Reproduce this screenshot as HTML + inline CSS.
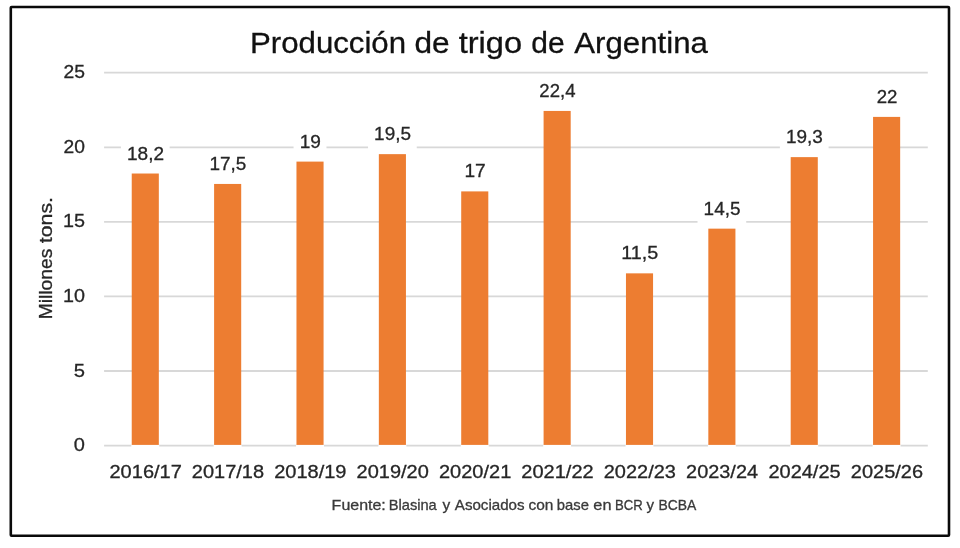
<!DOCTYPE html><html><head><meta charset="utf-8"><title>Producción de trigo de Argentina</title><style>html,body{margin:0;padding:0;background:#fff}svg{display:block;will-change:transform}</style></head><body><svg width="960" height="548" viewBox="0 0 960 548" font-family="Liberation Sans, sans-serif">
<rect x="0" y="0" width="960" height="548" fill="#fff"/>
<rect x="10.8" y="7.05" width="938.2" height="528.75" rx="0.8" fill="#fff" stroke="#0a0a0a" stroke-width="2.6"/>
<line x1="104.1" x2="927.8" y1="445.60" y2="445.60" stroke="#d8d8d8" stroke-width="1.8"/>
<line x1="104.1" x2="927.8" y1="371.02" y2="371.02" stroke="#d8d8d8" stroke-width="1.8"/>
<line x1="104.1" x2="927.8" y1="296.44" y2="296.44" stroke="#d8d8d8" stroke-width="1.8"/>
<line x1="104.1" x2="927.8" y1="221.86" y2="221.86" stroke="#d8d8d8" stroke-width="1.8"/>
<line x1="104.1" x2="927.8" y1="147.28" y2="147.28" stroke="#d8d8d8" stroke-width="1.8"/>
<line x1="104.1" x2="927.8" y1="72.70" y2="72.70" stroke="#d8d8d8" stroke-width="1.8"/>
<text transform="translate(73.75,451.10) scale(1.0489,1)" font-size="19.07" fill="#262626" stroke="#262626" stroke-width="0.3">0</text>
<text transform="translate(73.69,376.52) scale(1.0599,1)" font-size="19.07" fill="#262626" stroke="#262626" stroke-width="0.3">5</text>
<text transform="translate(62.92,301.94) scale(1.0357,1)" font-size="19.07" fill="#262626" stroke="#262626" stroke-width="0.3">10</text>
<text transform="translate(62.92,227.36) scale(1.0383,1)" font-size="19.07" fill="#262626" stroke="#262626" stroke-width="0.3">15</text>
<text transform="translate(63.44,152.78) scale(1.0104,1)" font-size="19.07" fill="#262626" stroke="#262626" stroke-width="0.3">20</text>
<text transform="translate(63.43,78.20) scale(1.0129,1)" font-size="19.07" fill="#262626" stroke="#262626" stroke-width="0.3">25</text>
<rect x="120.94" y="140.52" width="48.70" height="28.5" fill="#fff"/>
<rect x="203.30" y="150.95" width="48.70" height="28.5" fill="#fff"/>
<rect x="293.57" y="128.60" width="32.90" height="28.5" fill="#fff"/>
<rect x="368.04" y="121.15" width="48.70" height="28.5" fill="#fff"/>
<rect x="458.31" y="158.40" width="32.90" height="28.5" fill="#fff"/>
<rect x="532.78" y="77.94" width="48.70" height="28.5" fill="#fff"/>
<rect x="615.15" y="240.35" width="48.70" height="28.5" fill="#fff"/>
<rect x="697.52" y="195.65" width="48.70" height="28.5" fill="#fff"/>
<rect x="779.89" y="124.13" width="48.70" height="28.5" fill="#fff"/>
<rect x="870.16" y="83.90" width="32.90" height="28.5" fill="#fff"/>
<rect x="131.33" y="444.70" width="27.900000000000002" height="3" fill="#fff"/>
<rect x="131.73" y="173.52" width="27.1" height="271.38" fill="#ed7d31"/>
<text transform="translate(127.01,159.52) scale(1.0295,1)" font-size="18.49" fill="#262626" stroke="#262626" stroke-width="0.3">18,2</text>
<text transform="translate(109.48,478.30) scale(1.0829,1)" font-size="18.49" fill="#262626" stroke="#262626" stroke-width="0.3">2016/17</text>
<rect x="213.70" y="444.70" width="27.900000000000002" height="3" fill="#fff"/>
<rect x="214.10" y="183.95" width="27.1" height="260.95" fill="#ed7d31"/>
<text transform="translate(209.38,169.95) scale(1.0253,1)" font-size="18.49" fill="#262626" stroke="#262626" stroke-width="0.3">17,5</text>
<text transform="translate(191.86,478.30) scale(1.0806,1)" font-size="18.49" fill="#262626" stroke="#262626" stroke-width="0.3">2017/18</text>
<rect x="296.07" y="444.70" width="27.900000000000002" height="3" fill="#fff"/>
<rect x="296.47" y="161.60" width="27.1" height="283.30" fill="#ed7d31"/>
<text transform="translate(299.64,147.60) scale(1.0322,1)" font-size="18.49" fill="#262626" stroke="#262626" stroke-width="0.3">19</text>
<text transform="translate(274.22,478.30) scale(1.0822,1)" font-size="18.49" fill="#262626" stroke="#262626" stroke-width="0.3">2018/19</text>
<rect x="378.44" y="444.70" width="27.900000000000002" height="3" fill="#fff"/>
<rect x="378.84" y="154.15" width="27.1" height="290.75" fill="#ed7d31"/>
<text transform="translate(374.12,140.15) scale(1.0253,1)" font-size="18.49" fill="#262626" stroke="#262626" stroke-width="0.3">19,5</text>
<text transform="translate(356.60,478.30) scale(1.0799,1)" font-size="18.49" fill="#262626" stroke="#262626" stroke-width="0.3">2019/20</text>
<rect x="460.81" y="444.70" width="27.900000000000002" height="3" fill="#fff"/>
<rect x="461.21" y="191.40" width="27.1" height="253.50" fill="#ed7d31"/>
<text transform="translate(464.38,177.40) scale(1.0349,1)" font-size="18.49" fill="#262626" stroke="#262626" stroke-width="0.3">17</text>
<text transform="translate(438.96,478.30) scale(1.0829,1)" font-size="18.49" fill="#262626" stroke="#262626" stroke-width="0.3">2020/21</text>
<rect x="543.19" y="444.70" width="27.900000000000002" height="3" fill="#fff"/>
<rect x="543.59" y="110.94" width="27.1" height="333.96" fill="#ed7d31"/>
<text transform="translate(539.36,96.94) scale(1.0047,1)" font-size="18.49" fill="#262626" stroke="#262626" stroke-width="0.3">22,4</text>
<text transform="translate(521.33,478.30) scale(1.0829,1)" font-size="18.49" fill="#262626" stroke="#262626" stroke-width="0.3">2021/22</text>
<rect x="625.56" y="444.70" width="27.900000000000002" height="3" fill="#fff"/>
<rect x="625.96" y="273.35" width="27.1" height="171.55" fill="#ed7d31"/>
<text transform="translate(621.17,259.35) scale(1.0691,1)" font-size="18.49" fill="#262626" stroke="#262626" stroke-width="0.3">11,5</text>
<text transform="translate(603.70,478.30) scale(1.0814,1)" font-size="18.49" fill="#262626" stroke="#262626" stroke-width="0.3">2022/23</text>
<rect x="707.93" y="444.70" width="27.900000000000002" height="3" fill="#fff"/>
<rect x="708.33" y="228.65" width="27.1" height="216.25" fill="#ed7d31"/>
<text transform="translate(703.60,214.65) scale(1.0253,1)" font-size="18.49" fill="#262626" stroke="#262626" stroke-width="0.3">14,5</text>
<text transform="translate(686.08,478.30) scale(1.0768,1)" font-size="18.49" fill="#262626" stroke="#262626" stroke-width="0.3">2023/24</text>
<rect x="790.29" y="444.70" width="27.900000000000002" height="3" fill="#fff"/>
<rect x="790.69" y="157.13" width="27.1" height="287.77" fill="#ed7d31"/>
<text transform="translate(785.97,143.13) scale(1.0267,1)" font-size="18.49" fill="#262626" stroke="#262626" stroke-width="0.3">19,3</text>
<text transform="translate(768.45,478.30) scale(1.0806,1)" font-size="18.49" fill="#262626" stroke="#262626" stroke-width="0.3">2024/25</text>
<rect x="872.66" y="444.70" width="27.900000000000002" height="3" fill="#fff"/>
<rect x="873.06" y="116.90" width="27.1" height="328.00" fill="#ed7d31"/>
<text transform="translate(876.73,102.90) scale(1.0093,1)" font-size="18.49" fill="#262626" stroke="#262626" stroke-width="0.3">22</text>
<text transform="translate(850.81,478.30) scale(1.0814,1)" font-size="18.49" fill="#262626" stroke="#262626" stroke-width="0.3">2025/26</text>
<text transform="translate(250.00,53.30) scale(1.0417,1)" font-size="29.96" fill="#111" stroke="#111" stroke-width="0.3">Producción</text><text transform="translate(414.53,53.30) scale(1.0556,1)" font-size="29.96" fill="#111" stroke="#111" stroke-width="0.3">de</text><text transform="translate(458.71,53.30) scale(1.0877,1)" font-size="29.96" fill="#111" stroke="#111" stroke-width="0.3">trigo</text><text transform="translate(531.30,53.30) scale(1.0004,1)" font-size="29.96" fill="#111" stroke="#111" stroke-width="0.3">de</text><text transform="translate(574.20,53.30) scale(1.0427,1)" font-size="29.96" fill="#111" stroke="#111" stroke-width="0.3">Argentina</text>
<text transform="translate(331.62,510.40) scale(1.1107,1)" font-size="14.40" fill="#3a3a3a" stroke="#3a3a3a" stroke-width="0.3">Fuente:</text><text transform="translate(388.73,510.40) scale(1.0178,1)" font-size="14.40" fill="#3a3a3a" stroke="#3a3a3a" stroke-width="0.3">Blasina</text><text transform="translate(442.46,510.40) scale(1.0748,1)" font-size="14.40" fill="#3a3a3a" stroke="#3a3a3a" stroke-width="0.3">y</text><text transform="translate(454.80,510.40) scale(1.0508,1)" font-size="14.40" fill="#3a3a3a" stroke="#3a3a3a" stroke-width="0.3">Asociados</text><text transform="translate(528.44,510.40) scale(1.0751,1)" font-size="14.40" fill="#3a3a3a" stroke="#3a3a3a" stroke-width="0.3">con</text><text transform="translate(556.87,510.40) scale(1.0303,1)" font-size="14.40" fill="#3a3a3a" stroke="#3a3a3a" stroke-width="0.3">base</text><text transform="translate(593.31,510.40) scale(1.1332,1)" font-size="14.40" fill="#3a3a3a" stroke="#3a3a3a" stroke-width="0.3">en</text><text transform="translate(614.95,510.40) scale(0.9119,1)" font-size="14.40" fill="#3a3a3a" stroke="#3a3a3a" stroke-width="0.3">BCR</text><text transform="translate(646.46,510.40) scale(1.0469,1)" font-size="14.40" fill="#3a3a3a" stroke="#3a3a3a" stroke-width="0.3">y</text><text transform="translate(658.39,510.40) scale(0.9654,1)" font-size="14.40" fill="#3a3a3a" stroke="#3a3a3a" stroke-width="0.3">BCBA</text>
<g transform="translate(52.3,317.7) rotate(-90)"><text transform="translate(-1.54,0.00) scale(1.0105,1)" font-size="19.05" fill="#262626" stroke="#262626" stroke-width="0.3">Millones</text><text transform="translate(74.48,0.00) scale(1.1196,1)" font-size="19.05" fill="#262626" stroke="#262626" stroke-width="0.3">tons.</text></g>
</svg></body></html>
